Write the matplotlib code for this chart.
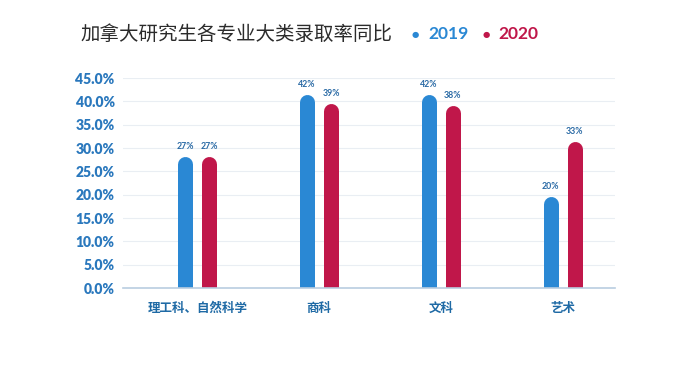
import matplotlib
matplotlib.use("Agg")
import matplotlib.pyplot as plt
import numpy as np

categories = ["理工科、自然科学", "商科", "文科", "艺术"]
# bar heights as they appear in the picture, labels as printed above bars
heights_2019 = [28.2, 41.5, 41.5, 19.7]
heights_2020 = [28.2, 39.6, 39.2, 31.5]
labels_2019 = ["27%", "42%", "42%", "20%"]
labels_2020 = ["27%", "39%", "38%", "33%"]
yticks = [0, 5, 10, 15, 20, 25, 30, 35, 40, 45]

blue = "#2a88d4"
red = "#c0174a"
tick_blue = "#2a78bd"
cjk = ["Noto Sans CJK SC", "DejaVu Sans"]

fig = plt.figure(figsize=(6.84, 3.83), dpi=100)
ax = fig.add_axes([123 / 684, 95 / 383, 492 / 684, 210 / 383])

x = np.arange(len(categories))
off = 0.098
lw_pt = 15 * 72 / 100  # 15 px wide bars
cap = 7.5 / 210 * 45   # round cap radius in data units

for xs, hs, col, labs in [(x - off, heights_2019, blue, labels_2019),
                          (x + off, heights_2020, red, labels_2020)]:
    hs = np.array(hs)
    lc = ax.vlines(xs, -5, hs - cap, colors=col, linewidth=lw_pt)
    lc.set_capstyle("round")
    for xi, hi, lab in zip(xs, hs, labs):
        ax.text(xi, hi + 1.1, lab, ha="center", va="bottom", fontsize=6.3,
                fontweight="bold", color="#2a6aa5", family="Lato", clip_on=False)

ax.set_xlim(-0.61, 3.43)
ax.set_ylim(0, 45)
ax.set_yticks(yticks)
ax.set_yticklabels([f"{v:.1f}%" for v in yticks], fontsize=10, fontweight="heavy",
                   color=tick_blue, family="Lato")
ax.set_xticks(x)
ax.set_xticklabels(categories, fontsize=9, fontweight="bold", color="#1f6aa5", family=cjk)
ax.tick_params(axis="both", length=0)
ax.tick_params(axis="x", pad=10)
ax.tick_params(axis="y", pad=6)
ax.grid(axis="y", color="#e9eef3", linewidth=0.8)
ax.set_axisbelow(True)
for s in ["top", "right", "left"]:
    ax.spines[s].set_visible(False)
ax.spines["bottom"].set_color("#b9cde0")
ax.spines["bottom"].set_linewidth(1.2)
ax.spines["bottom"].set_zorder(5)

ty = 1 - 34 / 383
fig.text(80 / 684, ty, "加拿大研究生各专业大类录取率同比", fontsize=14,
         color="#2b2b2b", family=cjk, va="center", ha="left")
fig.text(415.5 / 684, ty, "●", fontsize=6, color=blue, va="center", ha="center")
fig.text(428 / 684, ty, "2019", fontsize=12.5, fontweight="bold",
         color=blue, family="Lato", va="center", ha="left")
fig.text(486 / 684, ty, "●", fontsize=6, color=red, va="center", ha="center")
fig.text(498 / 684, ty, "2020", fontsize=12.5, fontweight="bold",
         color=red, family="Lato", va="center", ha="left")

fig.savefig("out.png", dpi=100)
